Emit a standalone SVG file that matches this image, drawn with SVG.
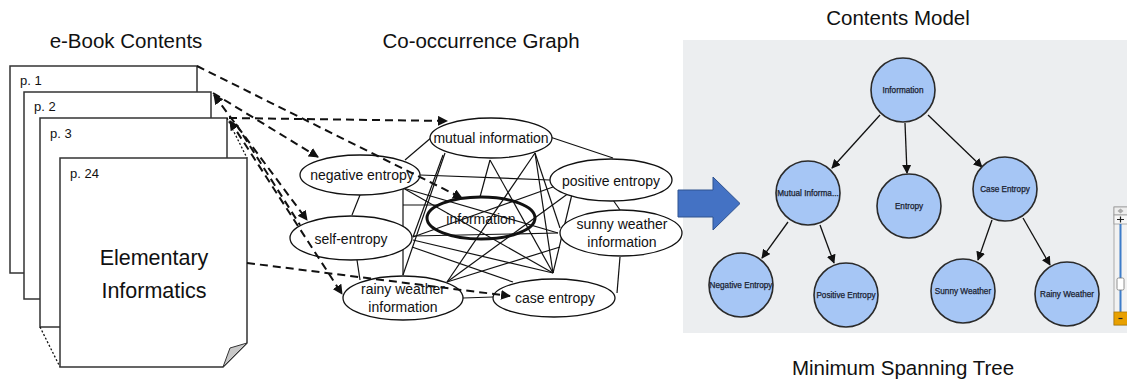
<svg xmlns="http://www.w3.org/2000/svg" width="1127" height="382" viewBox="0 0 1127 382">
<style>
text{font-family:"Liberation Sans",Arial,sans-serif;fill:#111}
.title{font-size:20.5px;text-anchor:middle}
.page{fill:#fff;stroke:#333;stroke-width:1.5}
.plabel{font-size:13px}
.edge{stroke:#111;stroke-width:1.2;fill:none}
.ell{fill:#fff;stroke:#111;stroke-width:1.3}
.elabel{font-size:14px;text-anchor:middle}
.dash{stroke:#111;stroke-width:2;stroke-dasharray:8,5;fill:none}
.dot{stroke:#111;stroke-width:1.3;stroke-dasharray:2,2;fill:none}
.tnode{fill:#a6c6f5;stroke:#2a2a2a;stroke-width:1.6}
.tlabel{font-size:8.2px;text-anchor:middle;fill:#1a2230;stroke:#1a2230;stroke-width:0.25}
.tedge{stroke:#111;stroke-width:1.3;fill:none}
</style>
<defs>
<marker id="ah" viewBox="0 0 10 10" refX="9" refY="5" markerWidth="5" markerHeight="5" orient="auto-start-reverse" markerUnits="strokeWidth"><path d="M0,0 L10,5 L0,10 z" fill="#111"/></marker>
<marker id="th" viewBox="0 0 10 10" refX="9" refY="5" markerWidth="7" markerHeight="7" orient="auto" markerUnits="strokeWidth"><path d="M0,0 L10,5 L0,10 z" fill="#111"/></marker>
</defs>

<g id="panel">
<rect x="683" y="40" width="444" height="293" fill="#eceef0"/>
</g>

<text class="title" x="126" y="48">e-Book Contents</text>
<text class="title" x="481" y="48">Co-occurrence Graph</text>
<text class="title" x="898" y="25">Contents Model</text>
<text class="title" x="903" y="375">Minimum Spanning Tree</text>

<g id="book">
<rect class="page" x="10" y="66" width="187" height="207"/>
<text class="plabel" x="20" y="85">p. 1</text>
<rect class="page" x="24" y="92" width="187" height="207"/>
<text class="plabel" x="34" y="111">p. 2</text>
<rect class="page" x="40" y="118" width="187" height="209"/>
<text class="plabel" x="50" y="138">p. 3</text>
<line class="dot" x1="40" y1="327" x2="60" y2="367"/>
<line class="dot" x1="227" y1="118" x2="247" y2="158"/>
<path class="page" d="M60,158 H247 V343 L223,367 H60 Z"/>
<path d="M247,343 L230,348 L223,367 Z" fill="#c8c8c8" stroke="#333" stroke-width="1"/>
<text class="plabel" x="70" y="178">p. 24</text>
<text x="154" y="265" font-size="21.5" text-anchor="middle">Elementary</text>
<text x="154" y="298" font-size="21.5" text-anchor="middle">Informatics</text>
</g>

<g id="graph-edges">
<line class="edge" x1="432" y1="137" x2="405" y2="160"/>
<line class="edge" x1="550" y1="137" x2="613" y2="158"/>
<line class="edge" x1="420" y1="175" x2="550" y2="180"/>
<line class="edge" x1="360" y1="195" x2="352" y2="215"/>
<line class="edge" x1="357" y1="260" x2="360" y2="280"/>
<line class="edge" x1="463" y1="298" x2="493" y2="297"/>
<line class="edge" x1="617" y1="293" x2="620" y2="257"/>
<line class="edge" x1="613" y1="200" x2="620" y2="210"/>
<line class="edge" x1="403" y1="188" x2="403" y2="275"/>
<line class="edge" x1="403" y1="188" x2="553" y2="273"/>
<line class="edge" x1="403" y1="188" x2="558" y2="233"/>
<line class="edge" x1="445" y1="153" x2="403" y2="275"/>
<line class="edge" x1="443" y1="155" x2="413" y2="237"/>
<line class="edge" x1="490" y1="160" x2="480" y2="197"/>
<line class="edge" x1="490" y1="160" x2="553" y2="273"/>
<line class="edge" x1="535" y1="153" x2="553" y2="273"/>
<line class="edge" x1="535" y1="153" x2="560" y2="228"/>
<line class="edge" x1="535" y1="153" x2="447" y2="282"/>
<line class="edge" x1="553" y1="187" x2="413" y2="237"/>
<line class="edge" x1="573" y1="190" x2="447" y2="282"/>
<line class="edge" x1="573" y1="190" x2="553" y2="273"/>
<line class="edge" x1="413" y1="236" x2="558" y2="233"/>
<line class="edge" x1="412" y1="247" x2="513" y2="282"/>
<line class="edge" x1="447" y1="282" x2="560" y2="247"/>
<line class="edge" x1="413" y1="240" x2="553" y2="273"/>
<line class="edge" x1="403" y1="205" x2="440" y2="205"/>
</g>

<g id="n-mutual"><ellipse class="ell" cx="491" cy="138" rx="61" ry="20"/><text class="elabel" x="491" y="143">mutual information</text></g>
<g id="n-negative"><ellipse class="ell" cx="360" cy="175" rx="60" ry="20"/><text class="elabel" x="362" y="180">negative entropy</text></g>
<g id="n-positive"><ellipse class="ell" cx="611" cy="180" rx="61" ry="21"/><text class="elabel" x="611" y="186">positive entropy</text></g>
<g id="n-self"><ellipse class="ell" cx="351" cy="238" rx="61" ry="22"/><text class="elabel" x="351" y="244">self-entropy</text></g>
<g id="n-sunny"><ellipse class="ell" cx="621" cy="233" rx="61" ry="23"/><text class="elabel" x="622" y="229">sunny weather</text><text class="elabel" x="622" y="247">information</text></g>
<g id="n-rainy"><ellipse class="ell" cx="403" cy="298" rx="60" ry="22"/><text class="elabel" x="403" y="294">rainy weather</text><text class="elabel" x="403" y="312">information</text></g>
<g id="n-case"><ellipse class="ell" cx="554" cy="298" rx="61" ry="19"/><text class="elabel" x="555" y="303">case entropy</text></g>
<g id="n-information"><ellipse cx="481" cy="218" rx="54" ry="21" fill="none" stroke="#111" stroke-width="3"/><text class="elabel" x="481" y="224">information</text></g>

<g id="book-links">
<line class="dash" x1="197" y1="66" x2="462" y2="198" marker-end="url(#ah)"/>
<line class="dash" x1="213" y1="93" x2="318" y2="157" marker-end="url(#ah)"/>
<line class="dash" x1="214" y1="95" x2="307" y2="220" marker-start="url(#ah)" marker-end="url(#ah)"/>
<line class="dash" x1="229" y1="118" x2="447" y2="121" marker-end="url(#ah)"/>
<line class="dash" x1="230" y1="121" x2="342" y2="294" marker-start="url(#ah)" marker-end="url(#ah)"/>
<line class="dash" x1="236" y1="124" x2="300" y2="225"/>
<line class="dash" x1="247" y1="263" x2="510" y2="296" marker-end="url(#ah)"/>
</g>

<path id="big-arrow" d="M678,190 H713 V177 L740,203.5 L713,230 V217 H678 Z" fill="#4472c4" stroke="#2f528f" stroke-width="1"/>

<g id="tree-edges">
<line class="tedge" x1="880" y1="115" x2="832" y2="168" marker-end="url(#th)"/>
<line class="tedge" x1="905" y1="123" x2="907" y2="173" marker-end="url(#th)"/>
<line class="tedge" x1="928" y1="115" x2="982" y2="167" marker-end="url(#th)"/>
<line class="tedge" x1="788" y1="222" x2="762" y2="258" marker-end="url(#th)"/>
<line class="tedge" x1="820" y1="225" x2="834" y2="263" marker-end="url(#th)"/>
<line class="tedge" x1="992" y1="220" x2="978" y2="260" marker-end="url(#th)"/>
<line class="tedge" x1="1023" y1="218" x2="1050" y2="265" marker-end="url(#th)"/>
</g>

<g id="t-information"><circle class="tnode" cx="903" cy="90" r="32"/><text class="tlabel" x="903" y="93">Information</text></g>
<g id="t-mutual"><circle class="tnode" cx="808" cy="193" r="32"/><text class="tlabel" x="808" y="196">Mutual Informa...</text></g>
<g id="t-entropy"><circle class="tnode" cx="909" cy="206" r="32"/><text class="tlabel" x="909" y="209">Entropy</text></g>
<g id="t-case"><circle class="tnode" cx="1005" cy="189" r="32"/><text class="tlabel" x="1005" y="192">Case Entropy</text></g>
<g id="t-negative"><circle class="tnode" cx="741" cy="285" r="32"/><text class="tlabel" x="741" y="288">Negative Entropy</text></g>
<g id="t-positive"><circle class="tnode" cx="846" cy="295" r="32"/><text class="tlabel" x="846" y="298">Positive Entropy</text></g>
<g id="t-sunny"><circle class="tnode" cx="963" cy="291" r="32"/><text class="tlabel" x="963" y="294">Sunny Weather</text></g>
<g id="t-rainy"><circle class="tnode" cx="1067" cy="294" r="32"/><text class="tlabel" x="1067" y="297">Rainy Weather</text></g>

<g id="zoom-slider">
<rect x="1114" y="207" width="14" height="118" fill="#f2f2f2" stroke="#999" stroke-width="0.8"/>
<rect x="1114" y="207" width="14" height="8" fill="#eee" stroke="#999" stroke-width="0.8"/>
<path d="M1120.5,208.5 L1123.5,211 L1120.5,213.5 L1117.5,211 Z" fill="#aaa"/>
<rect x="1114" y="215" width="14" height="9" fill="#f7f7f7" stroke="#999" stroke-width="0.8"/>
<path d="M1117,219.5 H1124 M1120.5,216.5 V222.5" stroke="#222" stroke-width="1.2"/>
<line x1="1120.5" y1="224" x2="1120.5" y2="312" stroke="#3d7cc9" stroke-width="2"/>
<rect x="1117" y="278" width="7" height="12" rx="1.5" fill="#fff" stroke="#777" stroke-width="0.8"/>
<rect x="1114" y="312" width="14" height="13" fill="#e8a000" stroke="#b07a00" stroke-width="0.8"/>
<path d="M1118.5,318.5 H1122.5" stroke="#222" stroke-width="1.2"/>
</g>
</svg>
